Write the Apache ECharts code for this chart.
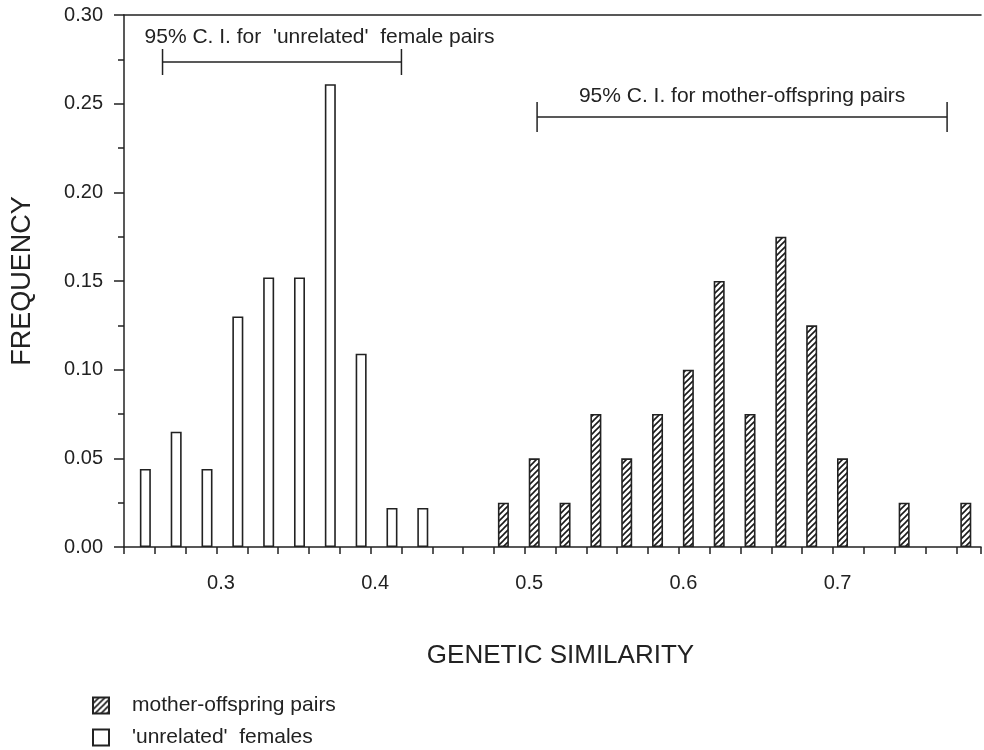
<!DOCTYPE html>
<html>
<head>
<meta charset="utf-8">
<script src="https://cdn.jsdelivr.net/npm/echarts@6/dist/echarts.min.js"></script>
<style>
  html, body { margin: 0; padding: 0; background: #fff; }
  #chart { width: 984px; height: 750px; }
</style>
</head>
<body>
<div id="chart"></div>
<script>
// ---- data ----
const unrelatedBins = [0.25, 0.27, 0.29, 0.31, 0.33, 0.35, 0.37, 0.39, 0.41, 0.43];
const unrelatedFreq = [0.044, 0.065, 0.044, 0.130, 0.152, 0.152, 0.261, 0.109, 0.022, 0.022];
const motherBins = [0.49, 0.51, 0.53, 0.55, 0.57, 0.59, 0.61, 0.63, 0.65, 0.67, 0.69, 0.71, 0.75, 0.79];
const motherFreq = [0.025, 0.05, 0.025, 0.075, 0.05, 0.075, 0.10, 0.15, 0.075, 0.175, 0.125, 0.05, 0.025, 0.025];
const ciLow = [0.265, 0.508];
const ciHigh = [0.420, 0.774];
const ciLevel = [0.2735, 0.2425];
const ciLabels = ["95% C. I. for  'unrelated'  female pairs", "95% C. I. for mother-offspring pairs"];
const seriesNames = ['mother-offspring pairs', "'unrelated'  females"];
const xTickLabels = ['0.3', '0.4', '0.5', '0.6', '0.7'];
const xRange = [0.24, 0.796];
const yRange = [0, 0.30];

// ---- hatch pattern ----
function makeHatch() {
  const c = document.createElement('canvas');
  const s = 6;
  c.width = s; c.height = s;
  const ctx = c.getContext('2d');
  ctx.fillStyle = '#fff';
  ctx.fillRect(0, 0, s, s);
  ctx.strokeStyle = '#1a1a1a';
  ctx.lineWidth = 1.6;
  ctx.beginPath();
  ctx.moveTo(0, s); ctx.lineTo(s, 0);
  ctx.moveTo(-1, 1); ctx.lineTo(1, -1);
  ctx.moveTo(s - 1, s + 1); ctx.lineTo(s + 1, s - 1);
  ctx.stroke();
  return c;
}
const hatch = { image: makeHatch(), repeat: 'repeat' };

const FONT = "'Liberation Sans', Arial, Helvetica, sans-serif";
const INK = '#222';

const chart = echarts.init(document.getElementById('chart'), null, { renderer: 'canvas' });

const ciData = ciLow.map((lo, i) => [lo, ciHigh[i], ciLevel[i], i]);
const ciAlign = ['left', 'center'];

chart.setOption({
  animation: false,
  backgroundColor: '#fff',
  grid: { left: 124, right: 0, top: 15, bottom: 203, show: false },
  legend: {
    orient: 'vertical',
    left: 92, top: 695,
    padding: 0,
    itemWidth: 16, itemHeight: 16, itemGap: 11,
    icon: 'rect',
    data: seriesNames,
    selectedMode: false,
    textStyle: { fontFamily: FONT, fontSize: 21, color: INK, padding: [0, 0, 0, 18] }
  },
  xAxis: [
    {
      type: 'value',
      min: xRange[0], max: xRange[1], interval: 0.02,
      name: 'GENETIC SIMILARITY',
      nameLocation: 'middle',
      nameGap: 96,
      nameTextStyle: { fontFamily: FONT, fontSize: 26, color: INK, padding: [0, 0, 0, 16] },
      axisLine: { show: true, onZero: false, lineStyle: { color: INK, width: 1.5 } },
      axisTick: { show: true, length: 7, lineStyle: { color: INK, width: 1.5 } },
      splitLine: { show: false },
      axisLabel: {
        margin: 26,
        fontFamily: FONT, fontSize: 20, color: INK,
        padding: [0, 0, 0, 9],
        formatter: function (v) {
          const s = (Math.round(v * 100) / 100).toFixed(1);
          if (Math.abs(v * 10 - Math.round(v * 10)) < 1e-6 && xTickLabels.indexOf(s) >= 0) return s;
          return '';
        }
      }
    },
    {
      type: 'value',
      position: 'top',
      min: xRange[0], max: xRange[1],
      axisLine: { show: true, onZero: false, lineStyle: { color: INK, width: 1.5 } },
      axisTick: { show: false },
      axisLabel: { show: false },
      splitLine: { show: false }
    }
  ],
  yAxis: {
    type: 'value',
    min: yRange[0], max: yRange[1], interval: 0.05,
    name: 'FREQUENCY',
    nameLocation: 'middle',
    nameRotate: 90,
    nameGap: 88,
    nameTextStyle: { fontFamily: FONT, fontSize: 27, color: INK },
    axisLine: { show: true, lineStyle: { color: INK, width: 1.5 } },
    axisTick: { show: true, length: 10, lineStyle: { color: INK, width: 1.5 } },
    minorTick: { show: true, splitNumber: 2, length: 6, lineStyle: { color: INK, width: 1.5 } },
    splitLine: { show: false },
    axisLabel: {
      margin: 21,
      fontFamily: FONT, fontSize: 20, color: INK,
      formatter: v => v.toFixed(2)
    }
  },
  series: [
    {
      name: seriesNames[0],
      type: 'bar',
      barWidth: 11,
      barGap: '8%',
      data: motherBins.map((b, i) => [b, motherFreq[i]]),
      itemStyle: { color: hatch, borderColor: INK, borderWidth: 1.6 }
    },
    {
      name: seriesNames[1],
      type: 'bar',
      barWidth: 11,
      barGap: '8%',
      data: unrelatedBins.map((b, i) => [b, unrelatedFreq[i]]),
      itemStyle: { color: '#fff', borderColor: INK, borderWidth: 1.6 }
    },
    {
      type: 'custom',
      silent: true,
      clip: false,
      encode: { x: [0, 1], y: 2 },
      data: ciData,
      renderItem: function (params, api) {
        const i = api.value(3);
        const p1 = api.coord([api.value(0), api.value(2)]);
        const p2 = api.coord([api.value(1), api.value(2)]);
        const h = i === 0 ? 13 : 15;
        const lineStyle = { stroke: INK, lineWidth: 1.5 };
        const align = ciAlign[i];
        const tx = align === 'left' ? p1[0] - 18 : (p1[0] + p2[0]) / 2;
        const ty = p1[1] - (i === 0 ? 25 : 21);
        return {
          type: 'group',
          children: [
            { type: 'line', shape: { x1: p1[0], y1: p1[1], x2: p2[0], y2: p2[1] }, style: lineStyle },
            { type: 'line', shape: { x1: p1[0], y1: p1[1] - h, x2: p1[0], y2: p1[1] + h }, style: lineStyle },
            { type: 'line', shape: { x1: p2[0], y1: p2[1] - h, x2: p2[0], y2: p2[1] + h }, style: lineStyle },
            {
              type: 'text',
              style: {
                x: tx, y: ty, text: ciLabels[i],
                align: align, verticalAlign: 'middle',
                font: '21px ' + FONT, fill: INK
              }
            }
          ]
        };
      }
    }
  ]
});
</script>
</body>
</html>
